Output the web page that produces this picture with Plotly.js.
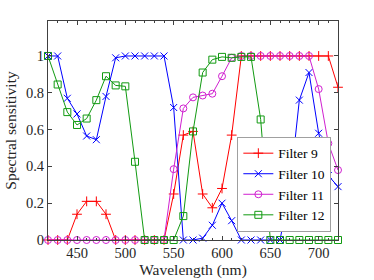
<!DOCTYPE html>
<html>
<head>
<meta charset="utf-8">
<script src="https://cdn.plot.ly/plotly-3.0.1.min.js"></script>
<style>html,body{margin:0;padding:0;background:#fff;}#chart{width:374px;height:280px;}</style>
</head>
<body>
<div id="chart"></div>
<script>
const wavelength = [420,430,440,450,460,470,480,490,500,510,520,530,540,550,560,570,580,590,600,610,620,630,640,650,660,670,680,690,700,710,720];
const filter9  = [0,0,0,0.14,0.21,0.21,0.14,0,0,0,0,0,0,0.25,0.57,0.59,0.25,0.175,0.28,0.57,1,1,1,1,1,1,1,1,1,1,0.83];
const filter10 = [1,1,0.77,0.685,0.565,0.545,0.78,0.99,1,1,1,1,1,0.72,0,0,0.01,0.08,0.2,0.105,0,0,0,0,0,0.27,0.76,0.91,0.58,0.35,0.29];
const filter11 = [0,0,0,0,0,0,0,0,0,0,0,0,0,0.385,0.715,0.775,0.785,0.795,0.89,0.99,1,1,1,1,1,1,1,1,0.82,0.525,0.38];
const filter12 = [1,0.845,0.695,0.625,0.66,0.76,0.89,0.84,0.835,0.425,0,0,0,0,0.13,0.59,0.91,0.98,0.995,0.99,0.995,0.995,0.655,0,0,0,0,0,0,0,0];
const seriesNames = ['Filter 9','Filter 10','Filter 11','Filter 12'];
const seriesColors = ['#ff0000','#0000ff','#d020d0','#119a11'];
const seriesSymbols = ['cross-thin-open','x-thin-open','circle-open','square-open'];
const seriesValues = [filter9, filter10, filter11, filter12];

const FONT = 'Liberation Serif';

const traces = seriesValues.map((vals, i) => ({
  x: wavelength,
  y: vals,
  name: seriesNames[i],
  type: 'scatter',
  mode: 'lines+markers',
  cliponaxis: false,
  line: {color: seriesColors[i], width: 1},
  marker: {symbol: seriesSymbols[i], size: 7, color: seriesColors[i], line: {color: seriesColors[i], width: 1}}
}));

const axisCommon = {
  showline: true, linecolor: '#404040', linewidth: 1, mirror: 'ticks',
  ticks: 'inside', tickcolor: '#404040', ticklen: 4, tickwidth: 1,
  showgrid: false, zeroline: false,
  tickfont: {family: FONT, size: 14.5, color: '#262626'}
};

const layout = {
  width: 374, height: 280,
  margin: {l: 48, r: 36, t: 21, b: 40},
  paper_bgcolor: '#ffffff', plot_bgcolor: '#ffffff',
  font: {family: FONT},
  showlegend: true,
  xaxis: Object.assign({}, axisCommon, {
    range: [420, 720], tick0: 450, dtick: 50,
    minor: {ticks: 'inside', dtick: 10, tick0: 420, ticklen: 2, tickcolor: '#404040', showgrid: false},
    title: {text: 'Wavelength (nm)', font: {family: FONT, size: 15.5, color: '#262626'}, standoff: 2}
  }),
  yaxis: Object.assign({}, axisCommon, {
    range: [0, 1.19], tick0: 0, dtick: 0.2,
    title: {text: 'Spectral sensitivity', font: {family: FONT, size: 15.5, color: '#262626'}, standoff: 5}
  }),
  legend: {
    x: 0.977, xanchor: 'right', y: 0.037, yanchor: 'bottom',
    bgcolor: '#ffffff', bordercolor: '#a0a0a0', borderwidth: 1,
    font: {family: FONT, size: 13.5, color: '#000000'},
    itemwidth: 30, tracegroupgap: 0
  }
};

Plotly.newPlot('chart', traces, layout, {displayModeBar: false, staticPlot: true});
</script>
</body>
</html>
